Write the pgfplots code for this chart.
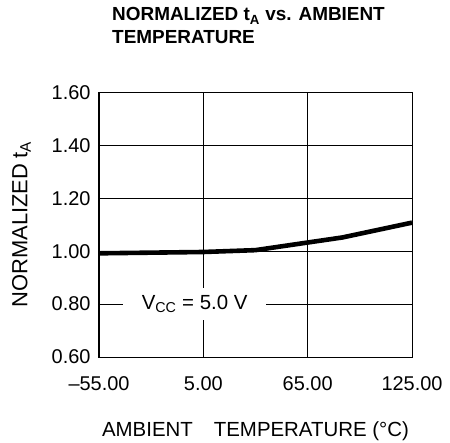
\documentclass[border=0pt]{standalone}
\usepackage{pgfplots}
\pgfplotsset{compat=1.18}
\usepackage{fontspec}
\setmainfont{Liberation Sans}
\newcommand{\fs}{\fontsize{20}{24}\selectfont}
\newcommand{\fl}{\fontsize{20.5}{24}\selectfont}
\newcommand{\fy}{\fontsize{22}{26}\selectfont}
\newcommand{\ft}{\fontsize{19}{22}\selectfont}
\begin{document}
\begin{tikzpicture}
\useasboundingbox (-99bp,-86bp) rectangle (351bp,357bp);
\begin{axis}[
  at={(0,0)}, anchor=south west,
  scale only axis, width=313bp, height=264.5bp,
  xmin=-55, xmax=125, ymin=0.6, ymax=1.6,
  xtick={-55,5,65,125}, xticklabels={–55.00,5.00,65.00,125.00},
  ytick={0.6,0.8,1.0,1.2,1.4,1.6}, yticklabels={0.60,0.80,1.00,1.20,1.40,1.60},
  major tick length=0,
  grid=major, major grid style={black, line width=0.9bp},
  axis line style={black, line width=1bp},
  ticklabel style={font=\fs},
  xticklabel style={yshift=-16bp},
  yticklabel style={xshift=-5bp},
  xlabel={AMBIENT\hspace*{21bp}TEMPERATURE (°C)},
  ylabel={NORMALIZED\hspace*{5bp}t\textsubscript{A}},
  xlabel style={font=\fl, yshift=-24bp},
  ylabel style={font=\fy, yshift=14bp},
  clip=false,
]
\addplot[black, line width=4.6bp] coordinates {(-55,0.992) (5,0.997) (35,1.004) (85,1.052) (125,1.108)};
\node[fill=white, inner sep=0, minimum width=143bp, minimum height=32bp, font=\fl] at (axis cs:0,0.80) {V\textsubscript{CC} = 5.0 V};
\end{axis}
\node[anchor=base west, font=\ft\bfseries, inner sep=0] at (13bp,336bp) {NORMALIZED t\textsubscript{A} vs. AMBIENT};
\node[anchor=base west, font=\ft\bfseries, inner sep=0] at (13bp,313bp) {TEMPERATURE};
\end{tikzpicture}
\end{document}
